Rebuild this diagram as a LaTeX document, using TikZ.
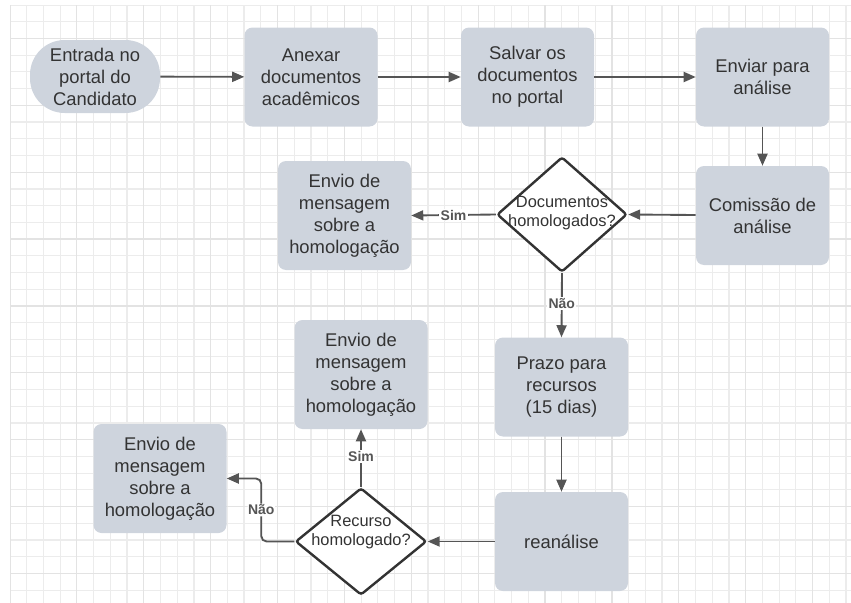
\documentclass[tikz,border=0pt]{standalone}
\usepackage{fontspec}
\setmainfont{Liberation Sans}
\usetikzlibrary{shapes.geometric,arrows.meta}
\definecolor{boxfill}{RGB}{206,212,221}
\definecolor{ink}{RGB}{51,51,51}
\definecolor{wire}{RGB}{85,85,85}
\definecolor{gridminor}{RGB}{236,236,236}
\definecolor{gridmajor}{RGB}{227,227,227}
\begin{document}
\begin{tikzpicture}[x=0.75pt,y=-0.75pt,
  stepbox/.style={draw=none, fill=boxfill, rounded corners=6pt, text=ink, align=center,
    font=\fontsize{13.8}{16.5}\selectfont, inner sep=0pt, minimum width=99.75pt, minimum height=74.25pt},
  msgbox/.style={stepbox, minimum height=81.75pt},
  decision/.style={diamond, draw=ink, line width=1.8pt, fill=white, rounded corners=2pt, inner sep=0pt},
  qtext/.style={text=ink, align=center, font=\fontsize{12.3}{14.8}\selectfont, inner sep=0pt},
  flow/.style={draw=wire, line width=1.4pt, -{Triangle[length=9pt,width=7.5pt]}},
  tag/.style={fill=white, text=wire, font=\bfseries\fontsize{10.5}{12}\selectfont, inner sep=1pt}]

\useasboundingbox (0,0) rectangle (851,603);

% background grid
\begin{scope}
  \clip (10,5) rectangle (851,603);
  \foreach \i in {0,...,50}
    \draw[gridminor, line width=0.9pt] ({10+16.72*\i},5) -- ({10+16.72*\i},603);
  \foreach \j in {0,...,36}
    \draw[gridminor, line width=0.9pt] (10,{5+16.72*\j}) -- (851,{5+16.72*\j});
  \foreach \i in {0,...,12}
    \draw[gridmajor, line width=0.9pt] ({10+66.88*\i},5) -- ({10+66.88*\i},603);
  \foreach \j in {0,...,8}
    \draw[gridmajor, line width=0.9pt] (10,{5+16.72*(2+4*\j)}) -- (851,{5+16.72*(2+4*\j)});
\end{scope}

% top row
\node[stepbox, rounded corners=26pt, minimum width=97.5pt, minimum height=54.75pt] (start) at (95,76.5) {Entrada no\\portal do\\Candidato};
\node[stepbox] (anexar) at (311,77) {Anexar\\documentos\\acadêmicos};
\node[stepbox] (salvar) at (527.5,77) {Salvar os\\documentos\\no portal};
\node[stepbox] (enviar) at (762.5,77) {Enviar para\\análise};

% review
\node[stepbox] (comissao) at (762.5,215.5) {Comissão de\\análise};
\node[decision, minimum width=97.5pt, minimum height=86.25pt] (d1) at (562,214.5) {};
\node[qtext] (q1) at (562,213) {Documentos\\homologados?};
\node[msgbox] (e1) at (344.5,215.5) {Envio de\\mensagem\\sobre a\\homologação};

% appeal
\node[stepbox] (prazo) at (561.5,387) {Prazo para\\recursos\\(15 dias)};
\node[stepbox] (rean) at (561.5,541.5) {reanálise};
\node[decision, minimum width=98.25pt, minimum height=80.25pt] (d2) at (361,541.5) {};
\node[qtext] (q2) at (361,532) {Recurso\\homologado?};
\node[msgbox] (e2) at (361,374.5) {Envio de\\mensagem\\sobre a\\homologação};
\node[msgbox] (e3) at (160,478.5) {Envio de\\mensagem\\sobre a\\homologação};

% connectors
\draw[flow] (start) -- (anexar);
\draw[flow] (anexar) -- (salvar);
\draw[flow] (salvar) -- (enviar);
\draw[flow] (enviar) -- (comissao);
\draw[flow] (comissao) -- (d1.east);
\draw[flow] (d1.west) -- (e1.east) node[tag, pos=0.5] {Sim};
\draw[flow] (d1.south) -- (prazo.north) node[tag, pos=0.48] {Não};
\draw[flow] (prazo) -- (rean);
\draw[flow] (rean) -- (d2.east);
\draw[flow] (d2.north) -- (e2.south) node[tag, pos=0.52] {Sim};
\draw[flow, rounded corners=4pt] (d2.west) -- ++(-33,0) |- (e3.east) node[tag, pos=0.25] {Não};
\end{tikzpicture}
\end{document}
